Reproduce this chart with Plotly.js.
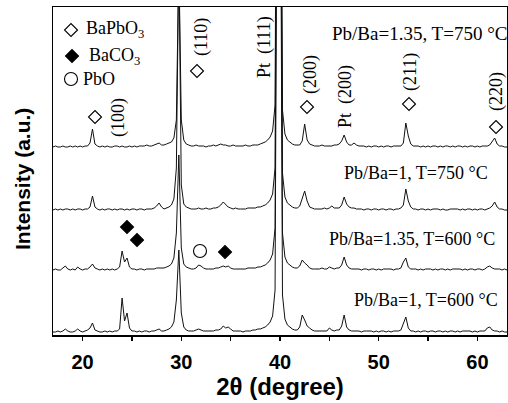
<!DOCTYPE html>
<html>
<head>
<meta charset="utf-8">
<script src="https://cdn.plot.ly/plotly-3.0.1.min.js"></script>
<style>html,body{margin:0;padding:0;background:#fff;}#chart{width:508px;height:403px;}</style>
</head>
<body>
<div id="chart"></div>
<script>
// 2-theta scan positions (degree)
const twoTheta = [
17,17.25,17.5,17.75,18,18.25,18.5,18.75,
19,19.25,19.5,19.75,20,20.25,20.5,20.75,
21,21.25,21.5,21.75,22,22.25,22.5,22.75,
23,23.25,23.5,23.75,24,24.25,24.5,24.75,
25,25.25,25.5,25.75,26,26.25,26.5,26.75,
27,27.25,27.5,27.75,28,28.25,28.5,28.75,
29,29.25,29.5,29.75,30,30.25,30.5,30.75,
31,31.25,31.5,31.75,32,32.25,32.5,32.75,
33,33.25,33.5,33.75,34,34.25,34.5,34.75,
35,35.25,35.5,35.75,36,36.25,36.5,36.75,
37,37.25,37.5,37.75,38,38.25,38.5,38.75,
39,39.25,39.5,39.75,40,40.25,40.5,40.75,
41,41.25,41.5,41.75,42,42.25,42.5,42.75,
43,43.25,43.5,43.75,44,44.25,44.5,44.75,
45,45.25,45.5,45.75,46,46.25,46.5,46.75,
47,47.25,47.5,47.75,48,48.25,48.5,48.75,
49,49.25,49.5,49.75,50,50.25,50.5,50.75,
51,51.25,51.5,51.75,52,52.25,52.5,52.75,
53,53.25,53.5,53.75,54,54.25,54.5,54.75,
55,55.25,55.5,55.75,56,56.25,56.5,56.75,
57,57.25,57.5,57.75,58,58.25,58.5,58.75,
59,59.25,59.5,59.75,60,60.25,60.5,60.75,
61,61.25,61.5,61.75,62,62.25,62.5,62.75,
63];

// Intensity (a.u.), one array per sample
const pb135_T750 = [
3,4,3,3, 4,3,3,4, 3,4,3,4, 3,4,4,7, 21,6,4,3, 4,3,4,3, 3,4,4,3, 4,3,3,4, 3,4,3,4, 4,4,5,4,
4,5,6,7, 5,5,6,7, 8,12,30,190, 30,10,6,5, 4,4,5,4, 4,4,3,4, 4,5,4,5, 6,5,5,4, 4,5,4,4, 4,4,5,4,
4,5,5,5, 6,7,8,10, 13,19,45,600, 600,40,16,10, 8,6,5,5, 5,9,26,10, 6,5,4,4, 4,5,4,4, 4,4,5,5, 6,9,15,8,
5,5,7,5, 4,4,4,3, 4,3,4,4, 3,4,3,4, 4,3,4,4, 4,4,7,27, 14,6,4,4, 4,3,4,3, 4,3,4,4, 3,4,3,4,
4,3,4,3, 4,4,3,4, 3,4,4,3, 4,3,4,4, 4,5,8,12, 6,4,4,3, 3];
const pb1_T750 = [
3,4,3,4, 3,4,4,3, 4,3,4,4, 3,4,4,6, 17,6,4,3, 4,3,4,4, 3,4,3,4, 4,3,4,3, 4,4,3,4, 4,3,4,4,
4,5,7,10, 6,4,5,6, 8,14,45,260, 28,9,6,5, 4,4,4,5, 4,4,5,4, 4,5,5,6, 8,11,8,6, 5,4,5,4, 4,4,4,5,
5,5,5,6, 6,7,8,10, 13,19,45,600, 600,40,16,10, 8,6,5,5, 7,14,22,12, 6,5,4,4, 4,4,5,4, 5,7,5,5, 5,8,16,9,
6,5,5,4, 4,4,3,4, 4,3,4,4, 3,4,4,3, 4,4,3,4, 4,5,8,24, 12,6,4,4, 3,4,4,3, 4,3,4,4, 4,3,4,3,
3,4,4,4, 4,3,4,3, 4,4,3,4, 3,4,4,3, 4,5,7,11, 6,4,4,3, 3];
const pb135_T600 = [
3,4,3,3, 5,7,4,3, 4,3,6,4, 3,4,4,6, 9,5,4,3, 4,3,4,3, 4,3,4,6, 22,11,15,6, 4,4,3,4, 4,3,4,4,
4,4,5,5, 5,5,6,7, 9,15,40,118, 25,9,6,5, 4,4,5,8, 7,5,4,4, 4,4,5,5, 6,7,6,7, 5,4,4,4, 4,4,4,5,
5,5,5,6, 6,7,8,10, 13,19,45,600, 600,40,16,10, 8,6,5,5, 7,13,10,8, 5,4,4,4, 4,5,4,4, 6,5,4,5, 5,8,16,8,
5,4,4,4, 4,3,4,4, 3,4,4,3, 4,3,4,4, 4,4,3,4, 4,5,11,15, 6,4,4,4, 3,4,3,4, 4,4,3,4, 3,4,4,3,
4,3,4,4, 4,4,3,4, 3,4,4,3, 4,4,3,4, 6,7,5,4, 4,4,3,4, 3];
const pb1_T600 = [
3,3,4,3, 4,6,4,3, 3,4,6,4, 3,4,5,7, 12,5,4,3, 3,4,3,4, 3,4,4,6, 37,14,22,7, 4,4,3,4, 3,4,4,3,
4,4,5,6, 4,4,5,6, 8,13,35,85, 22,8,5,4, 4,4,5,6, 5,4,4,4, 4,4,5,5, 6,9,7,8, 6,4,4,4, 4,3,4,4,
4,5,5,6, 6,7,8,10, 13,19,45,600, 600,40,16,10, 8,6,5,5, 8,20,15,9, 7,5,4,4, 4,4,4,4, 7,5,4,5, 5,9,20,8,
5,4,4,4, 4,3,4,4, 4,4,3,4, 3,4,4,3, 4,3,4,4, 4,5,12,18, 7,4,4,3, 4,3,4,4, 3,4,4,3, 4,4,3,4,
3,4,4,3, 4,3,4,4, 4,4,3,4, 3,4,4,4, 7,8,5,4, 4,3,4,3, 3];

const sampleLabels = ["Pb/Ba=1.35, T=750 °C", "Pb/Ba=1, T=750 °C", "Pb/Ba=1.35, T=600 °C", "Pb/Ba=1, T=600 °C"];
const seriesList = [pb135_T750, pb1_T750, pb135_T600, pb1_T600];
const verticalOffsets = [185, 122, 62, 0];
const xTickVals = [20, 30, 40, 50, 60];
const xTickText = ["20", "30", "40", "50", "60"];

// pixel helpers for placing the hand-drawn annotations (plot area 53..507 x 7..335)
const L = 53, T = 7, W = 454, H = 328, X0 = 17, X1 = 63, Y1 = 328;
const px = p => X0 + (p - L) * (X1 - X0) / W;
const py = p => (T + H - p) * Y1 / H;

const traces = seriesList.map((s, k) => ({
  x: twoTheta,
  y: s.map(v => v + verticalOffsets[k]),
  type: 'scatter', mode: 'lines', name: sampleLabels[k],
  line: {color: '#111', width: 1}, hoverinfo: 'skip', showlegend: false
}));

// phase symbols
function sym(points, symbol, size) {
  return {
    x: points.map(p => px(p[0])), y: points.map(p => py(p[1])),
    type: 'scatter', mode: 'markers', showlegend: false, hoverinfo: 'skip', cliponaxis: false,
    marker: {symbol: symbol, size: size, color: '#000', line: {color: '#000', width: 1.1}}
  };
}
traces.push(sym([[71,30],[95,117],[197,71],[307,107],[409,104],[496,127]], 'diamond-open', 10));
traces.push(sym([[72,56],[127,227],[137,240],[225,252]], 'diamond', 10));
traces.push(sym([[71,79],[200,251]], 'circle-open', 13));

const serif = 'Liberation Serif, Times New Roman, serif';
const sans = 'Liberation Sans, Arial, sans-serif';
function rot(text, xp, yp) {
  return {x: px(xp), y: py(yp), xref: 'x', yref: 'y', text: text, showarrow: false,
          textangle: -90, xanchor: 'center', yanchor: 'middle',
          font: {family: serif, size: 18, color: '#000'}};
}
function lab(text, xp, yp, anchor, size) {
  return {x: (xp - L) / W, y: (T + H - yp) / H, xref: 'paper', yref: 'paper', text: text, showarrow: false,
          xanchor: anchor, yanchor: 'middle', font: {family: serif, size: size || 18, color: '#000'}};
}
const annotations = [
  rot('(100)', 118, 118), rot('(110)', 201, 37), rot('Pt  (111)', 264, 47),
  rot('(200)', 310, 75), rot('Pt  (200)', 345, 97), rot('(211)', 410, 72), rot('(220)', 496, 92),
  lab('BaPbO<sub>3</sub>', 84, 30, 'left'), lab('BaCO<sub>3</sub>', 87, 56, 'left'), lab('PbO', 81, 79, 'left'),
  lab(sampleLabels[0], 509, 34, 'right', 19), lab(sampleLabels[1], 490, 173, 'right'),
  lab(sampleLabels[2], 497, 239, 'right'), lab(sampleLabels[3], 500, 300, 'right'),
  {x: (22 - L) / W, y: (T + H - 179) / H, xref: 'paper', yref: 'paper', text: 'Intensity (a.u.)',
   showarrow: false, textangle: -90, xanchor: 'center', yanchor: 'middle',
   font: {family: sans, size: 21, weight: 'bold', color: '#000'}}
];

const layout = {
  width: 508, height: 403,
  margin: {l: L, r: 508 - L - W, t: T, b: 403 - T - H},
  paper_bgcolor: '#fff', plot_bgcolor: '#fff',
  showlegend: false,
  xaxis: {
    range: [X0, X1], tickvals: xTickVals, ticktext: xTickText,
    ticks: 'outside', ticklen: 4, tickwidth: 1.2, tickcolor: '#000', ticklabelstandoff: 4,
    minor: {dtick: 5, tick0: 0, ticks: 'outside', ticklen: 4, tickwidth: 1.2, tickcolor: '#000'},
    showline: true, linecolor: '#000', linewidth: 1.5, mirror: true, showgrid: false, zeroline: false,
    tickfont: {family: sans, size: 20, weight: 'bold', color: '#000'},
    title: {text: '2θ (degree)', font: {family: sans, size: 24, weight: 'bold', color: '#000'}, standoff: 6}
  },
  yaxis: {
    range: [0, Y1], showticklabels: false, ticks: '',
    showline: true, linecolor: '#000', linewidth: 1.5, mirror: true, showgrid: false, zeroline: false
  },
  annotations: annotations
};
Plotly.newPlot('chart', traces, layout, {staticPlot: true, displayModeBar: false});
</script>
</body>
</html>
